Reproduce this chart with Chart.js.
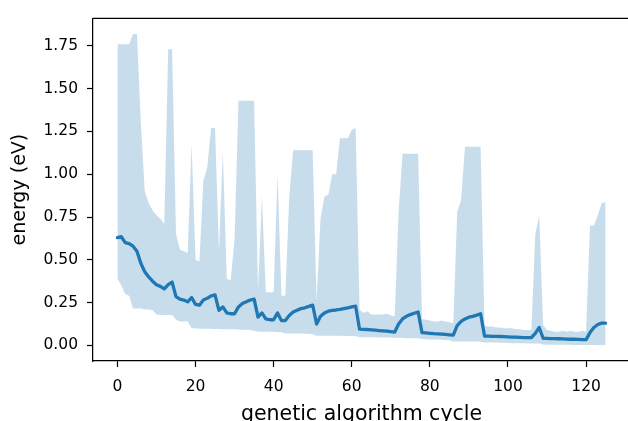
<!DOCTYPE html>
<html><head><meta charset="utf-8">
<script src="https://cdn.jsdelivr.net/npm/chart.js@4/dist/chart.umd.min.js"></script>
<style>
html,body{margin:0;padding:0;background:#fff;overflow:hidden}
#wrap{position:relative;width:628px;height:421px;overflow:hidden;background:#fff}
#box{position:absolute;left:0;top:0;width:640px;height:440px}
</style></head><body>
<div id="wrap"><div id="box"><canvas id="c"></canvas></div></div>
<script>
// energy statistics per genetic algorithm cycle (eV)
const maxEnergy = [
  1.76,1.76,1.76,1.76,1.82,1.82,1.30,0.90,0.83,0.79,
  0.76,0.74,0.71,1.73,1.73,0.65,0.56,0.55,0.54,1.18,
  0.50,0.49,0.96,1.04,1.27,1.27,0.55,1.13,0.39,0.38,
  0.62,1.43,1.43,1.43,1.43,1.43,0.32,0.87,0.31,0.31,
  0.31,1.00,0.29,0.29,0.87,1.14,1.14,1.14,1.14,1.14,
  1.14,0.26,0.74,0.87,0.88,1.00,1.00,1.21,1.21,1.21,
  1.26,1.27,0.21,0.19,0.20,0.18,0.18,0.18,0.18,0.185,
  0.175,0.17,0.78,1.12,1.12,1.12,1.12,1.12,0.155,0.15,
  0.145,0.14,0.14,0.145,0.14,0.135,0.13,0.78,0.85,1.16,
  1.16,1.16,1.16,1.16,0.115,0.11,0.11,0.105,0.105,0.10,
  0.10,0.10,0.095,0.095,0.09,0.09,0.09,0.65,0.76,0.12,
  0.09,0.085,0.08,0.08,0.085,0.08,0.085,0.08,0.08,0.085,
  0.08,0.70,0.70,0.76,0.83,0.84
];
const minEnergy = [
  0.39,0.35,0.30,0.29,0.215,0.215,0.215,0.21,0.21,0.205,
  0.18,0.178,0.177,0.177,0.177,0.15,0.14,0.14,0.14,0.10,
  0.10,0.098,0.098,0.097,0.097,0.096,0.096,0.095,0.095,0.094,
  0.094,0.093,0.092,0.091,0.09,0.085,0.08,0.08,0.08,0.08,
  0.08,0.078,0.077,0.07,0.07,0.07,0.07,0.07,0.068,0.068,
  0.065,0.056,0.056,0.056,0.056,0.056,0.056,0.056,0.055,0.055,
  0.055,0.054,0.048,0.048,0.048,0.048,0.048,0.047,0.047,0.046,
  0.046,0.045,0.045,0.044,0.042,0.042,0.042,0.042,0.037,0.036,
  0.035,0.035,0.034,0.033,0.032,0.03,0.023,0.023,0.023,0.023,
  0.023,0.023,0.023,0.022,0.017,0.017,0.017,0.017,0.016,0.016,
  0.016,0.012,0.012,0.012,0.012,0.011,0.011,0.011,0.011,0.005,
  0.004,0.004,0.004,0.004,0.004,0.004,0.004,0.003,0.003,0.003,
  0.003,0.003,0.003,0.003,0.003,0.003
];
const meanEnergy = [
  0.63,0.635,0.60,0.595,0.58,0.55,0.48,0.43,0.40,0.375,
  0.355,0.345,0.33,0.355,0.37,0.285,0.27,0.265,0.255,0.28,
  0.24,0.235,0.265,0.275,0.29,0.295,0.205,0.225,0.19,0.185,
  0.185,0.225,0.245,0.255,0.265,0.27,0.165,0.19,0.155,0.15,
  0.15,0.19,0.145,0.145,0.175,0.195,0.205,0.215,0.22,0.228,
  0.235,0.125,0.17,0.19,0.20,0.205,0.207,0.21,0.215,0.22,
  0.225,0.23,0.095,0.094,0.093,0.091,0.089,0.087,0.085,0.083,
  0.08,0.078,0.125,0.155,0.17,0.18,0.188,0.195,0.075,0.073,
  0.071,0.069,0.068,0.066,0.064,0.062,0.06,0.115,0.14,0.155,
  0.165,0.17,0.177,0.185,0.055,0.054,0.053,0.053,0.052,0.051,
  0.05,0.049,0.048,0.047,0.046,0.046,0.045,0.07,0.105,0.042,
  0.041,0.04,0.04,0.039,0.038,0.037,0.036,0.036,0.035,0.034,
  0.034,0.075,0.105,0.122,0.13,0.13
];
const cycles = meanEnergy.map((_, i) => i);
const xTicks = [0, 20, 40, 60, 80, 100, 120];
const yTicks = [0.00, 0.25, 0.50, 0.75, 1.00, 1.25, 1.50, 1.75];

const pts = arr => cycles.map((c, i) => ({x: c, y: arr[i]}));
const BLUE = '#1f77b4';
const FONT = "'DejaVu Sans', sans-serif";

const spines = {
  id: 'spines',
  afterDraw(chart) {
    const {ctx, chartArea: a} = chart;
    ctx.save();
    ctx.strokeStyle = '#000';
    ctx.lineWidth = 1.25;
    ctx.beginPath();
    ctx.moveTo(a.left, a.top); ctx.lineTo(a.right, a.top); ctx.lineTo(a.right, a.bottom);
    ctx.stroke();
    ctx.restore();
  }
};

new Chart(document.getElementById('c'), {
  type: 'line',
  data: {
    datasets: [
      {label: 'mean', data: pts(meanEnergy), borderColor: BLUE, borderWidth: 3.3,
       pointRadius: 0, fill: false, tension: 0, borderJoinStyle: 'round', borderCapStyle: 'round'},
      {label: 'max', data: pts(maxEnergy), borderWidth: 0, borderColor: 'rgba(0,0,0,0)',
       backgroundColor: 'rgba(31,119,180,0.25)', pointRadius: 0, fill: '+1', tension: 0},
      {label: 'min', data: pts(minEnergy), borderWidth: 0, borderColor: 'rgba(0,0,0,0)',
       pointRadius: 0, fill: false, tension: 0}
    ]
  },
  options: {
    responsive: true, maintainAspectRatio: false, animation: false, devicePixelRatio: 1,
    layout: {padding: {left: 0, top: 13, right: 10, bottom: 0}},
    plugins: {legend: {display: false}, tooltip: {enabled: false}},
    scales: {
      x: {
        type: 'linear', min: -6.25, max: 131.25,
        afterBuildTicks: s => { s.ticks = xTicks.map(v => ({value: v})); },
        afterFit: s => { s.height = 79; },
        grid: {display: true, drawOnChartArea: false, drawTicks: true, tickLength: 6, tickWidth: 1.2, tickColor: '#000'},
        border: {display: true, color: '#000', width: 1.25},
        ticks: {color: '#000', font: {family: FONT, size: 15.5}, padding: 11, maxRotation: 0,
                callback: v => String(v)},
        title: {display: true, text: 'genetic algorithm cycle', color: '#000',
                font: {family: FONT, size: 20.5}, padding: {top: 0, bottom: 13}}
      },
      y: {
        type: 'linear', min: -0.091, max: 1.911,
        afterBuildTicks: s => { s.ticks = yTicks.map(v => ({value: v})); },
        afterFit: s => { s.width = 93; },
        grid: {display: true, drawOnChartArea: false, drawTicks: true, tickLength: 6, tickWidth: 1.2, tickColor: '#000'},
        border: {display: true, color: '#000', width: 1.25},
        ticks: {color: '#000', font: {family: FONT, size: 15.5}, padding: 9,
                callback: v => Number(v).toFixed(2)},
        title: {display: true, text: 'energy (eV)', color: '#000',
                font: {family: FONT, size: 19}, padding: {top: 9, bottom: 0}}
      }
    }
  },
  plugins: [spines]
});
</script>
</body></html>
